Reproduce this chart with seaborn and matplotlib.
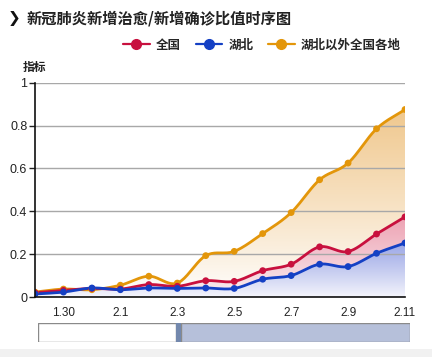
import numpy as np
import pandas as pd
import matplotlib
matplotlib.use("Agg")
import matplotlib.pyplot as plt
import matplotlib.colors as mcolors
from matplotlib.patches import Rectangle
from matplotlib.lines import Line2D
import seaborn as sns

# ---- data ----
dates = ['1.29', '1.30', '1.31', '2.1', '2.2', '2.3', '2.4', '2.5',
         '2.6', '2.7', '2.8', '2.9', '2.10', '2.11']
national = [0.020, 0.031, 0.040, 0.037, 0.058, 0.050, 0.076, 0.073,
            0.123, 0.153, 0.234, 0.212, 0.294, 0.374]
hubei = [0.014, 0.023, 0.042, 0.034, 0.042, 0.040, 0.042, 0.040,
         0.083, 0.100, 0.153, 0.142, 0.204, 0.252]
outside = [0.023, 0.037, 0.034, 0.055, 0.097, 0.065, 0.193, 0.213,
           0.296, 0.394, 0.547, 0.625, 0.785, 0.875]
series_names = ['全国', '湖北', '湖北以外全国各地']
tick_labels = ['1.30', '2.1', '2.3', '2.5', '2.7', '2.9', '2.11']
y_ticks = [0, 0.2, 0.4, 0.6, 0.8, 1]
y_tick_labels = ['0', '0.2', '0.4', '0.6', '0.8', '1']

colors = {'全国': '#c8103e', '湖北': '#1440c4', '湖北以外全国各地': '#e3960a'}
fill_top = {'全国': '#eda2b3', '湖北': '#9aa6e6', '湖北以外全国各地': '#f0c88e'}

sns.set_theme(style="white")
plt.rcParams['font.family'] = ['Noto Sans CJK SC', 'DejaVu Sans']

fig = plt.figure(figsize=(4.32, 3.57), dpi=100)
fig.patch.set_facecolor('white')
ax = fig.add_axes([35 / 432, 1 - 297 / 357, 370 / 432, (297 - 82.7) / 357])

x = np.arange(len(dates))


def smooth(xv, yv, per=20):
    """Catmull-Rom spline through the data points (drawing only)."""
    xv = np.asarray(xv, float)
    yv = np.asarray(yv, float)
    n = len(xv)
    m = np.zeros(n)
    m[1:-1] = (yv[2:] - yv[:-2]) / 2.0
    m[0] = yv[1] - yv[0]
    m[-1] = yv[-1] - yv[-2]
    xs, ys = [], []
    for i in range(n - 1):
        t = np.linspace(0, 1, per, endpoint=(i == n - 2))
        h00 = 2 * t**3 - 3 * t**2 + 1
        h10 = t**3 - 2 * t**2 + t
        h01 = -2 * t**3 + 3 * t**2
        h11 = t**3 - t**2
        xs.append(xv[i] + t)
        ys.append(h00 * yv[i] + h10 * m[i] + h01 * yv[i + 1] + h11 * m[i + 1])
    return np.concatenate(xs), np.concatenate(ys)


def grad_fill(ax, xs, ys, color, zorder, bottom='#ffffff'):
    top = float(np.max(ys))
    c1 = np.array(mcolors.to_rgb(color))
    c0 = np.array(mcolors.to_rgb(bottom))
    n = 256
    t = np.linspace(1, 0, n)[:, None]
    img = np.ones((n, 1, 4))
    img[:, 0, :3] = c0 + (c1 - c0) * t ** 0.9
    poly = ax.fill_between(xs, ys, 0, color='none', lw=0)
    im = ax.imshow(img, aspect='auto', extent=[xs[0], xs[-1], 0, top],
                   origin='upper', zorder=zorder, interpolation='bilinear')
    im.set_clip_path(poly.get_paths()[0], transform=ax.transData)


data = {'全国': national, '湖北': hubei, '湖北以外全国各地': outside}

# gradient fills
grad_fill(ax, *smooth(x, outside), fill_top['湖北以外全国各地'], 1.0)
grad_fill(ax, *smooth(x, national), fill_top['全国'], 1.1, bottom='#fbf3f5')
grad_fill(ax, *smooth(x, hubei), fill_top['湖北'], 1.2, bottom='#f6f6fc')

# smooth lines + points
rows = []
pts = []
for name in ['湖北以外全国各地', '全国', '湖北']:
    xs, ys = smooth(x, data[name])
    rows.append(pd.DataFrame({'x': xs, 'y': ys, 'series': name}))
    pts.append(pd.DataFrame({'x': x, 'y': data[name], 'series': name}))
line_df = pd.concat(rows, ignore_index=True)
pt_df = pd.concat(pts, ignore_index=True)

sns.lineplot(data=line_df, x='x', y='y', hue='series', palette=colors,
             linewidth=2.0, legend=False, ax=ax, sort=False, estimator=None,
             zorder=5)
sns.scatterplot(data=pt_df, x='x', y='y', hue='series', palette=colors,
                s=24, edgecolor='none', legend=False, ax=ax, zorder=6)

ax.set_xlim(0, len(dates) - 1)
ax.set_ylim(0, 1)
ax.set_xlabel('')
ax.set_ylabel('')
ax.set_xticks([dates.index(t) for t in tick_labels])
ax.set_xticklabels(tick_labels, fontsize=8.5, family=['Liberation Sans', 'DejaVu Sans'])
ax.set_yticks(y_ticks)
ax.set_yticklabels(y_tick_labels, fontsize=9, family=['Liberation Sans', 'DejaVu Sans'])
ax.tick_params(axis='x', length=0, pad=7, colors='#222222')
ax.tick_params(axis='y', length=4, width=1, pad=1.5, colors='#222222', left=True)
ax.yaxis.grid(True, color='#a8a8a8', linewidth=1.0)
ax.xaxis.grid(False)
ax.set_axisbelow(False)
for s in ['top', 'right']:
    ax.spines[s].set_visible(False)
for s in ['left', 'bottom']:
    ax.spines[s].set_visible(True)
    ax.spines[s].set_color('#111111')
    ax.spines[s].set_linewidth(1.2)
    ax.spines[s].set_zorder(7)
ax.set_facecolor('white')

# title
fig.text(8 / 432, 1 - 18 / 357, '❯', fontsize=11, fontweight='bold',
         family=['DejaVu Sans'], va='center', ha='left', color='#111111')
fig.text(27 / 432, 1 - 18 / 357, '新冠肺炎新增治愈/新增确诊比值时序图', fontsize=11,
         va='center', ha='left', color='#222222', fontweight='bold')

# y-axis label
fig.text(23 / 432, 1 - 67 / 357, '指标', fontsize=8.5, va='center', ha='left',
         color='#222222', fontweight='bold')

# legend
handles = [Line2D([0], [0], color=colors[n], lw=1.6, marker='o', markersize=7,
                  markerfacecolor=colors[n], markeredgecolor=colors[n])
           for n in series_names]
fig.legend(handles, series_names, loc='center', ncol=3,
           bbox_to_anchor=(262 / 432, 1 - 45 / 357), frameon=False,
           handlelength=2.1, handletextpad=0.5, columnspacing=1.2,
           prop={'family': ['Noto Sans CJK SC', 'DejaVu Sans'], 'size': 9,
                 'weight': 'bold'})

# range-selector strip at the bottom
sax = fig.add_axes([38 / 432, 1 - 342 / 357, 372 / 432, 19 / 357])
sax.set_xlim(38, 410)
sax.set_ylim(0, 1)
sax.axis('off')
sax.add_patch(Rectangle((38, 0), 138, 1, facecolor='white', edgecolor='#8a8a8a', lw=1))
sax.add_patch(Rectangle((181, 0), 229, 1, facecolor='#b6c0da', edgecolor='#8a8a8a', lw=1))
sax.add_patch(Rectangle((176, 0), 5, 1, facecolor='#7388ad', edgecolor='none'))

# faint bottom strip
fig.add_artist(Rectangle((0, 0), 1, 8 / 357, transform=fig.transFigure,
                         facecolor='#f1f1f1', edgecolor='none'))

fig.savefig('out.png', dpi=100, facecolor='white')
